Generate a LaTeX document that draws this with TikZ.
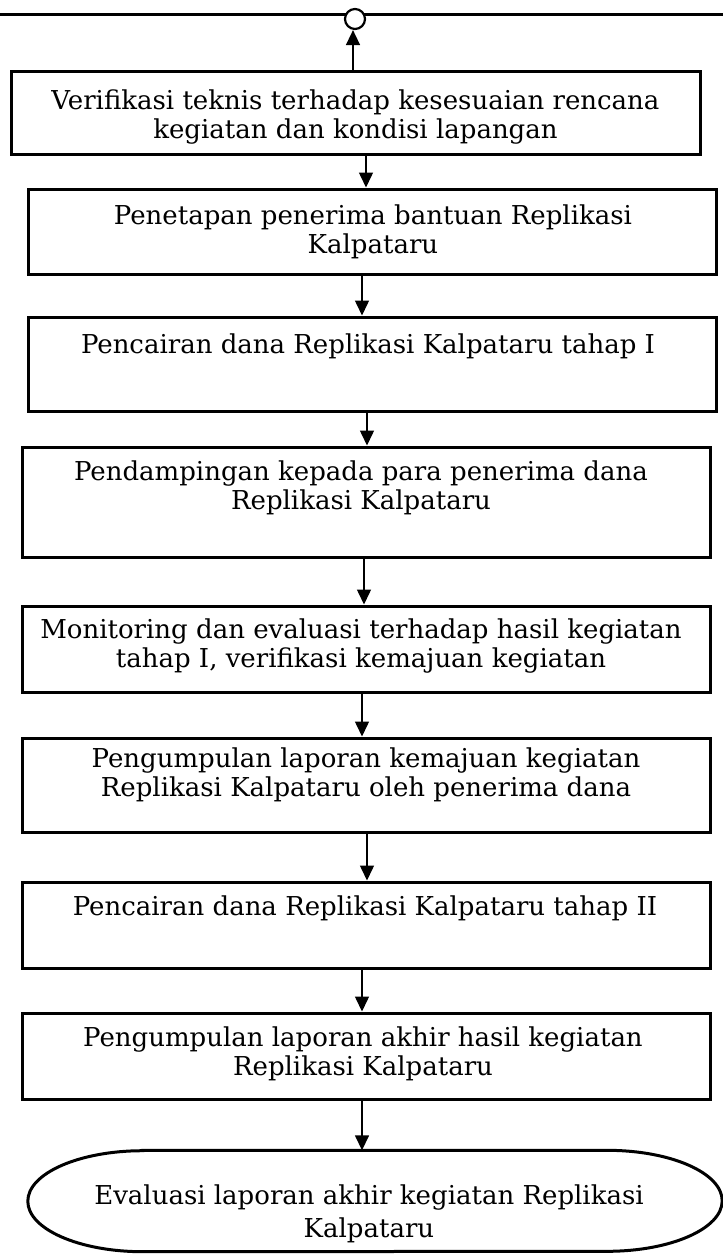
\documentclass[tikz,border=0pt]{standalone}
\usepackage{fontspec}
\setmainfont{DejaVu Serif}
\usetikzlibrary{arrows.meta}
\begin{document}
\begin{tikzpicture}[x=1pt,y=-1pt,
  txt/.style={inner sep=0pt, align=center, font=\fontsize{26}{29.5}\selectfont},
  box/.style={draw, line width=3pt, inner sep=0pt},
  conn/.style={line width=1.5pt, -{Triangle[length=15pt,width=14pt]}},
  thickline/.style={line width=3pt},
]
\useasboundingbox (0,0) rectangle (723,1254);

\coordinate (L) at (0,14);
\coordinate (R) at (723,14);
\draw[thickline] (L) -- (R);
\node[circle, draw, fill=white, line width=2.2pt, minimum size=20pt, inner sep=0pt] (c) at (355,19) {};

% boxes
\node[box, minimum width=689pt, minimum height=83pt]  (b1) at (355.5,112.5) {};
\node[box, minimum width=688pt, minimum height=85pt]  (b2) at (372,231.5) {};
\node[box, minimum width=688pt, minimum height=94pt]  (b3) at (372,364) {};
\node[box, minimum width=688pt, minimum height=110pt] (b4) at (366,502) {};
\node[box, minimum width=688pt, minimum height=86pt]  (b5) at (366,649) {};
\node[box, minimum width=688pt, minimum height=94pt]  (b6) at (366,785) {};
\node[box, minimum width=688pt, minimum height=86pt]  (b7) at (366,925) {};
\node[box, minimum width=688pt, minimum height=86pt]  (b8) at (366,1056) {};

% texts
\node[txt] (t1) at (355.5,117) {Verifikasi teknis terhadap kesesuaian rencana\\kegiatan dan kondisi lapangan};
\node[txt] (t2) at (373,232) {Penetapan penerima bantuan Replikasi\\Kalpataru};
\node[txt] (t3) at (368,346) {Pencairan dana Replikasi Kalpataru tahap I};
\node[txt] (t4) at (361,488) {Pendampingan kepada para penerima dana\\Replikasi Kalpataru};
\node[txt] (t5) at (361,646) {Monitoring dan evaluasi terhadap hasil kegiatan\\tahap I, verifikasi kemajuan kegiatan};
\node[txt] (t6) at (366,775) {Pengumpulan laporan kemajuan kegiatan\\Replikasi Kalpataru oleh penerima dana};
\node[txt] (t7) at (365,908) {Pencairan dana Replikasi Kalpataru tahap II};
\node[txt] (t8) at (363,1054) {Pengumpulan laporan akhir hasil kegiatan\\Replikasi Kalpataru};

% terminator (ellipse-like shape)
\node[minimum width=694pt, minimum height=101pt, inner sep=0pt] (e) at (375,1201) {};
\draw[thickline] ([xshift=115pt]e.north west) -- ([xshift=-115pt]e.north east)
  arc[start angle=90, end angle=-90, x radius=115pt, y radius=50.5pt]
  -- ([xshift=115pt]e.south west)
  arc[start angle=270, end angle=90, x radius=115pt, y radius=50.5pt] -- cycle;
\node[txt, font=\fontsize{26}{33}\selectfont] (et) at (369,1214)
  {Evaluasi laporan akhir kegiatan Replikasi\\Kalpataru};

\draw[conn] (b1.north -| 353,0) -- (c.south -| 353,0);
\draw[conn] (b1.south -| 366,0) -- (b2.north -| 366,0);
\draw[conn] (b2.south -| 362,0) -- (b3.north -| 362,0);
\draw[conn] (b3.south -| 367,0) -- (b4.north -| 367,0);
\draw[conn] (b4.south -| 364,0) -- (b5.north -| 364,0);
\draw[conn] (b5.south -| 362,0) -- (b6.north -| 362,0);
\draw[conn] (b6.south -| 367,0) -- (b7.north -| 367,0);
\draw[conn] (b7.south -| 362,0) -- (b8.north -| 362,0);
\draw[conn] (b8.south -| 362,0) -- (e.north -| 362,0);
\end{tikzpicture}
\end{document}
